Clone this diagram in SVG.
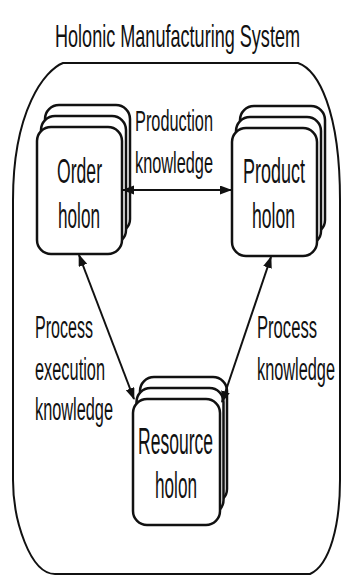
<svg xmlns="http://www.w3.org/2000/svg" width="341" height="575" viewBox="0 0 341 575">
<style>
.t{font-family:"Liberation Sans",Arial,sans-serif;fill:#111}
.box{fill:#fff;stroke:#111;stroke-width:2.5}
.frame{fill:none;stroke:#111;stroke-width:2}
.con{fill:none;stroke:#111;stroke-width:2;marker-start:url(#ah);marker-end:url(#ah)}
</style>
<defs>
<marker id="ah" markerUnits="userSpaceOnUse" markerWidth="12" markerHeight="10" refX="11" refY="4.5" orient="auto-start-reverse"><path d="M0,0 L12,4.5 L0,9 z" fill="#111"/></marker>
</defs>
<rect width="341" height="575" fill="#fff"/>
<text class="t" x="55" y="47" font-size="32" textLength="245" lengthAdjust="spacingAndGlyphs">Holonic Manufacturing System</text>
<path class="frame" d="M63 63 H298 C318 70 340 110 340 200 V480 C340 525 330 565 310 574 H55 C30 574 13 520 13 480 V200 C13 110 45 70 63 63 Z"/>
<g id="order">
<rect class="box" x="45" y="105" width="85" height="128" rx="14"/>
<rect class="box" x="41" y="116" width="85" height="128" rx="14"/>
<rect class="box" x="37" y="127" width="85" height="127" rx="14"/>
<text class="t" x="57" y="183" font-size="35" textLength="45" lengthAdjust="spacingAndGlyphs">Order</text>
<text class="t" x="58" y="228" font-size="35" textLength="42" lengthAdjust="spacingAndGlyphs">holon</text>
</g>
<g id="product">
<rect class="box" x="240" y="106" width="85" height="128" rx="14"/>
<rect class="box" x="236" y="117" width="85" height="128" rx="14"/>
<rect class="box" x="232" y="128" width="85" height="128" rx="14"/>
<text class="t" x="243" y="183" font-size="35" textLength="62" lengthAdjust="spacingAndGlyphs">Product</text>
<text class="t" x="252" y="228" font-size="35" textLength="43" lengthAdjust="spacingAndGlyphs">holon</text>
</g>
<g id="resource">
<rect class="box" x="140" y="377" width="87" height="126" rx="14"/>
<rect class="box" x="136.5" y="388" width="87" height="126" rx="14"/>
<rect class="box" x="133" y="399" width="87" height="126" rx="14"/>
<text class="t" x="138" y="454" font-size="36" textLength="75" lengthAdjust="spacingAndGlyphs">Resource</text>
<text class="t" x="155" y="498" font-size="36" textLength="42" lengthAdjust="spacingAndGlyphs">holon</text>
</g>
<g id="connectors">
<line class="con" x1="123" y1="190" x2="231" y2="190"/>
<line class="con" x1="79" y1="255" x2="134" y2="399"/>
<line class="con" x1="271" y1="257" x2="222" y2="402"/>
</g>
<g id="labels">
<text class="t" x="135" y="131" font-size="30" textLength="78" lengthAdjust="spacingAndGlyphs">Production</text>
<text class="t" x="135" y="173" font-size="30" textLength="78" lengthAdjust="spacingAndGlyphs">knowledge</text>
<text class="t" x="35" y="338" font-size="31" textLength="58" lengthAdjust="spacingAndGlyphs">Process</text>
<text class="t" x="35" y="380" font-size="31" textLength="70" lengthAdjust="spacingAndGlyphs">execution</text>
<text class="t" x="35" y="420" font-size="31" textLength="78" lengthAdjust="spacingAndGlyphs">knowledge</text>
<text class="t" x="257" y="338" font-size="31" textLength="60" lengthAdjust="spacingAndGlyphs">Process</text>
<text class="t" x="257" y="380" font-size="31" textLength="78" lengthAdjust="spacingAndGlyphs">knowledge</text>
</g>
</svg>
